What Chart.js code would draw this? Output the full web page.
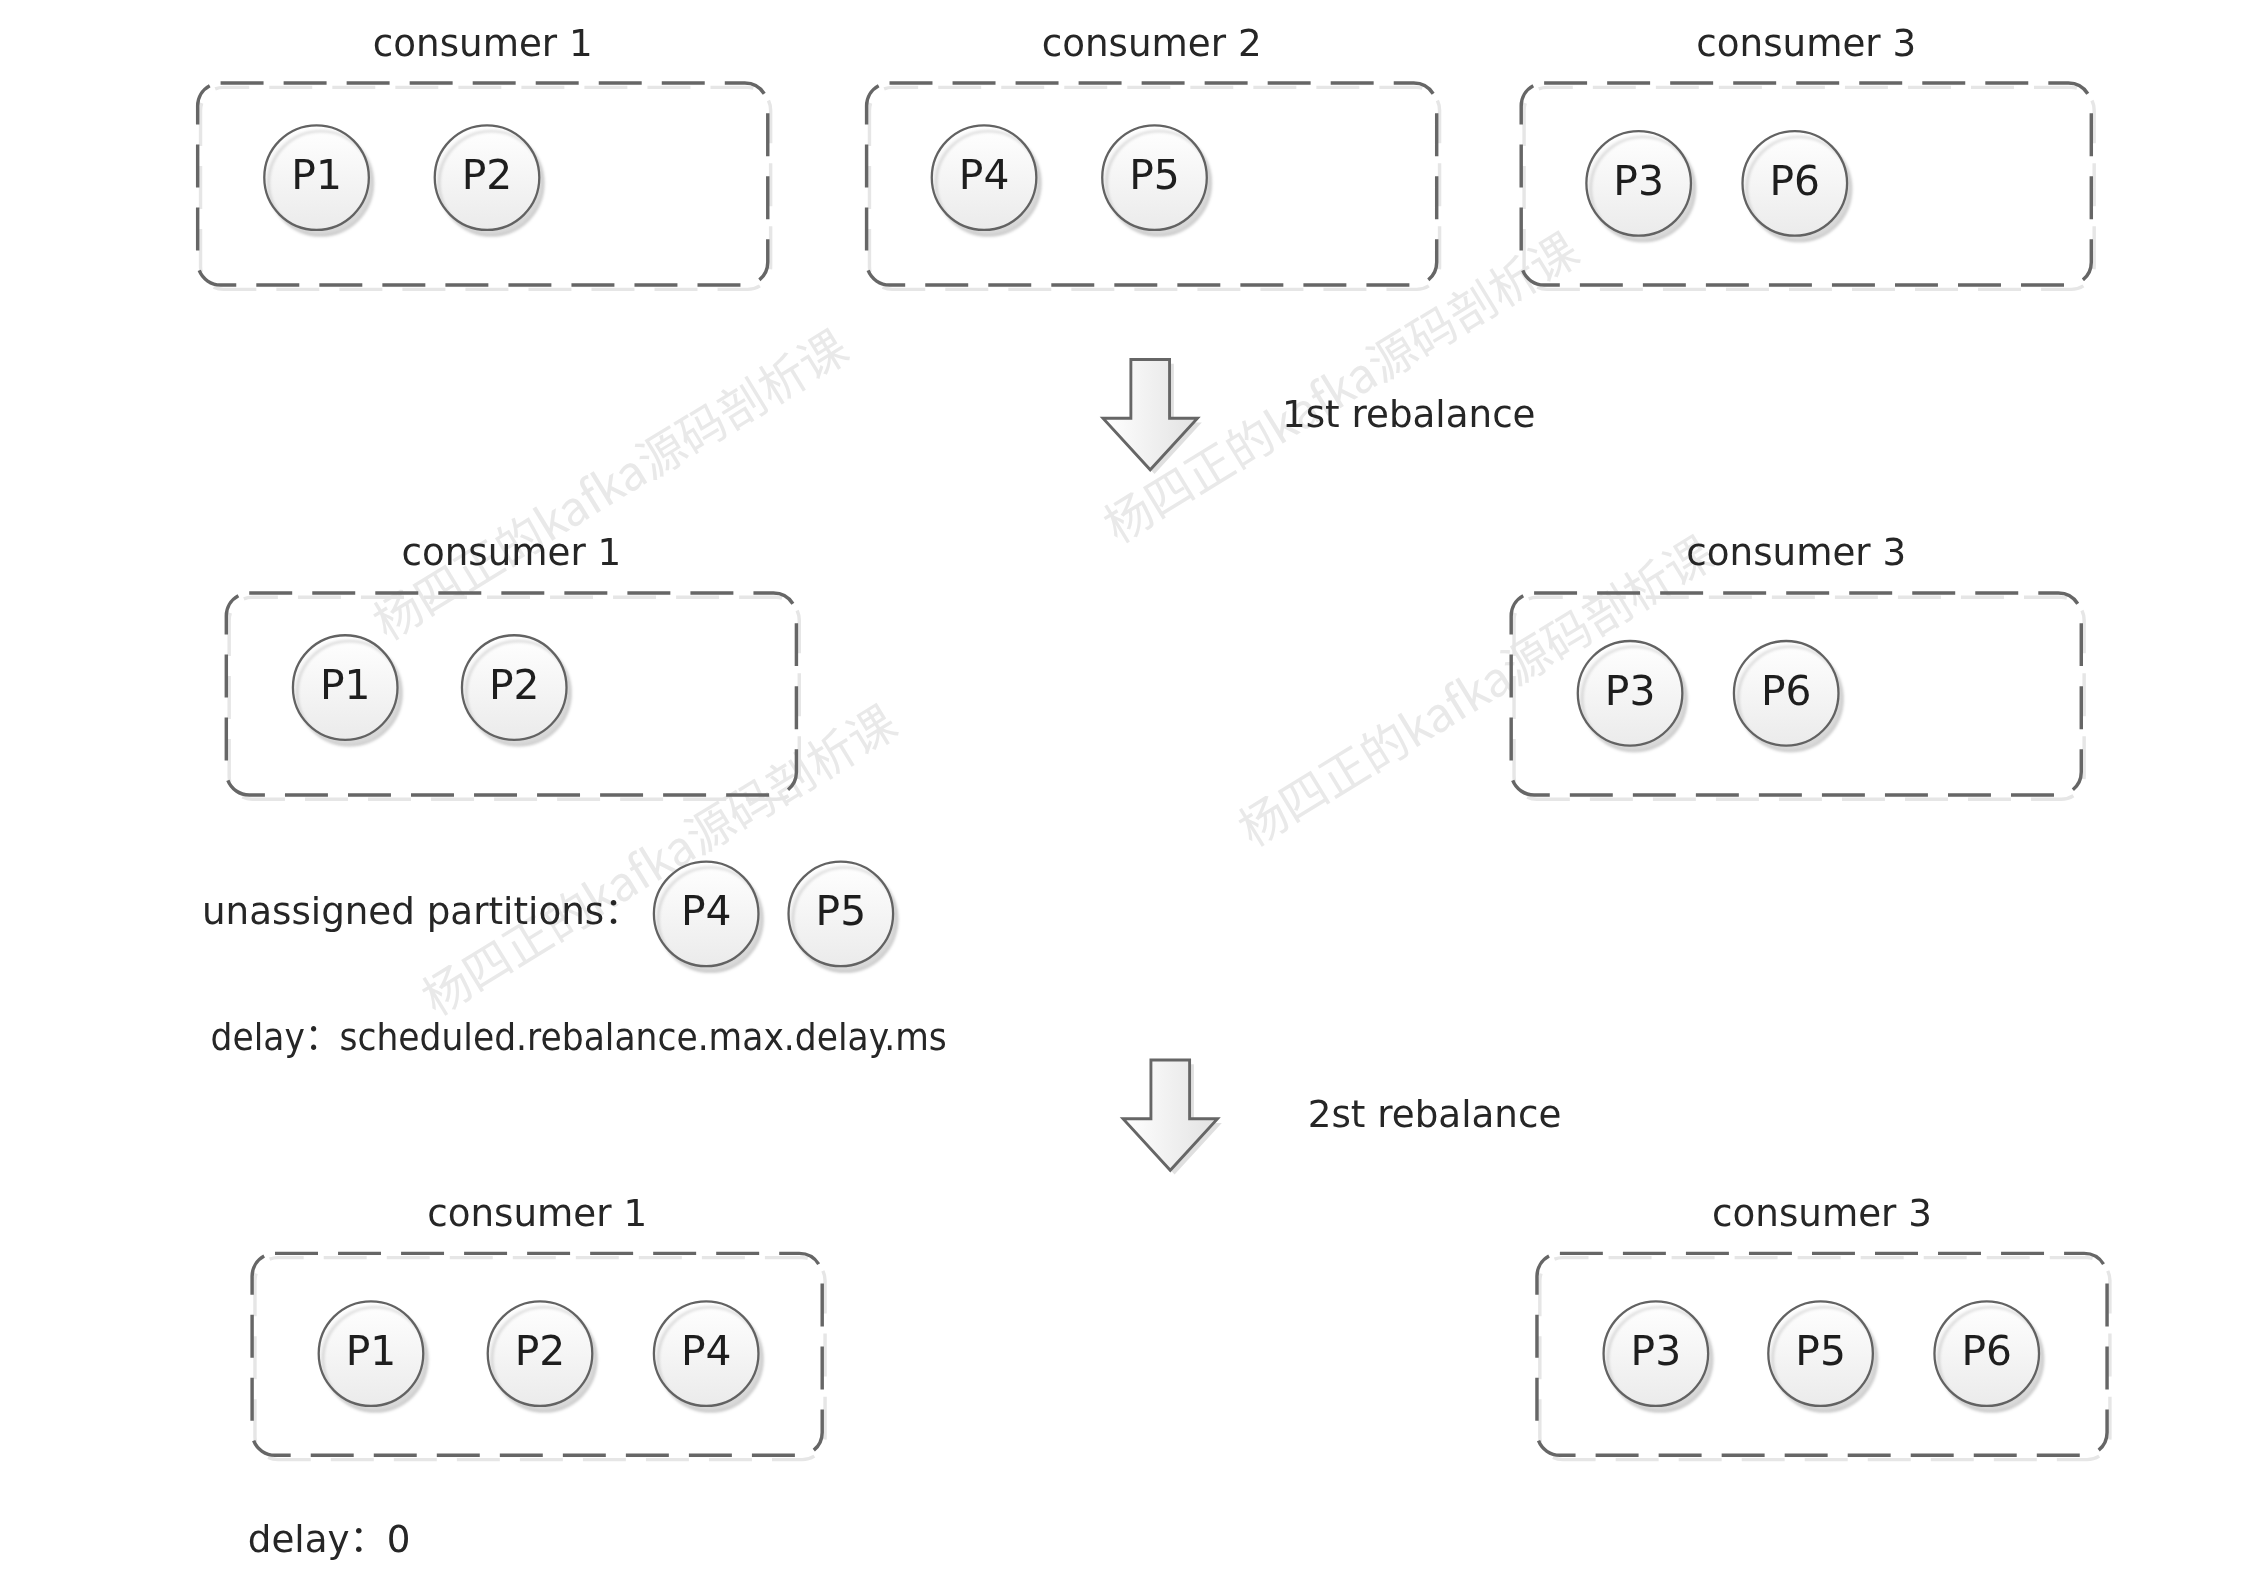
<!DOCTYPE html>
<html>
<head>
<meta charset="utf-8">
<script src="https://cdn.jsdelivr.net/npm/chart.js@4.4.0/dist/chart.umd.min.js"></script>
<style>
html, body { margin: 0; padding: 0; background: #fff; }
#wrap { width: 2246px; height: 1588px; }
</style>
</head>
<body>
<div id="wrap"><canvas id="myChart" width="2246" height="1588"></canvas></div>
<script>
// diagram units are 1568 x 1108.6, the scales map them onto the canvas
var partNames = ['P1', 'P2', 'P4', 'P5', 'P3', 'P6',
                 'P1', 'P2', 'P3', 'P6',
                 'P4', 'P5',
                 'P1', 'P2', 'P4', 'P3', 'P5', 'P6'];
var partX = [221, 340, 687, 806, 1144, 1253,
             241, 359, 1138, 1247,
             493, 587,
             259, 377, 493, 1156, 1271, 1387];
var partY = [124, 124, 124, 124, 128, 128,
             480, 480, 484, 484,
             638, 638,
             945, 945, 945, 945, 945, 945];

var groupTitles = ['consumer 1', 'consumer 2', 'consumer 3', 'consumer 1', 'consumer 3', 'consumer 1', 'consumer 3'];
var groupLeft = [138, 605, 1062, 158, 1055, 176, 1073];
var groupTop = [58, 58, 58, 414, 414, 875, 875];

var noteTexts = ['1st rebalance', 'unassigned partitions\uFF1A', 'delay\uFF1Ascheduled.rebalance.max.delay.ms', '2st rebalance', 'delay\uFF1A0'];
var noteX = [895, 141, 147, 913, 173];
var noteY = [291, 638, 726, 780, 1077];

var arrowX = [803, 817];
var arrowTop = [251, 740];
var arrowTip = [328, 817];

var wmText = '杨四正的kafka源码剖析课';
var wmX = [426, 936, 1030, 460];
var wmY = [338, 270, 482, 600];

var W = 1568, H = W * 1588 / 2246;
var K = 2246 / W;
var FONT = '"DejaVu Sans", "Noto Sans CJK SC", sans-serif';

var ctx = document.getElementById('myChart');

function boxPath(c, sx, sy, left, top, dx, dy) {
    var x1 = sx.getPixelForValue(left) + dx;
    var x2 = sx.getPixelForValue(left + 398) + dx;
    var y1 = sy.getPixelForValue(top) + dy;
    var y2 = sy.getPixelForValue(top + 141) + dy;
    c.beginPath();
    c.roundRect(x1, y1, x2 - x1, y2 - y1, 16 * K);
}

var diagramPlugin = {
    id: 'diagram',
    beforeDatasetsDraw: function(chart) {
        var c = chart.ctx, sx = chart.scales.x, sy = chart.scales.y;
        var i;
        // watermark
        c.save();
        c.fillStyle = '#e9e9e9';
        c.font = (33 * K) + 'px "Noto Sans CJK SC", sans-serif';
        c.textAlign = 'center';
        c.textBaseline = 'middle';
        for (i = 0; i < wmX.length; i++) {
            c.save();
            c.translate(sx.getPixelForValue(wmX[i]), sy.getPixelForValue(wmY[i]));
            c.rotate(-31.5 * Math.PI / 180);
            c.fillText(wmText, 0, 0);
            c.restore();
        }
        c.restore();

        // consumer boxes: light shadow stroke, then the dark dashes
        c.save();
        c.lineWidth = 2.4 * K;
        c.setLineDash([30 * K, 14 * K]);
        for (i = 0; i < groupLeft.length; i++) {
            c.strokeStyle = '#e6e6e6';
            c.lineDashOffset = 12 * K;
            boxPath(c, sx, sy, groupLeft[i], groupTop[i], 2 * K, 3 * K);
            c.stroke();
            c.strokeStyle = '#666';
            c.lineDashOffset = 0;
            boxPath(c, sx, sy, groupLeft[i], groupTop[i], 0, 0);
            c.stroke();
        }
        c.restore();

        // titles and notes
        c.save();
        c.fillStyle = '#262626';
        c.font = (26 * K) + 'px ' + FONT;
        c.textAlign = 'center';
        c.textBaseline = 'middle';
        for (i = 0; i < groupTitles.length; i++) {
            c.fillText(groupTitles[i], sx.getPixelForValue(groupLeft[i] + 199), sy.getPixelForValue(groupTop[i] - 26));
        }
        c.textAlign = 'left';
        for (i = 0; i < noteTexts.length; i++) {
            // the long config line is set a bit tighter in the original
            var maxW = noteTexts[i].length > 30 ? 514 * K : undefined;
            c.fillText(noteTexts[i], sx.getPixelForValue(noteX[i]), sy.getPixelForValue(noteY[i]), maxW);
        }
        c.restore();

        // arrows
        c.save();
        for (i = 0; i < arrowX.length; i++) {
            var cx = arrowX[i], top = arrowTop[i], tip = arrowTip[i];
            var head = tip - 36;
            var pts = [[cx - 13.5, top], [cx + 13.5, top], [cx + 13.5, head], [cx + 33, head],
                       [cx, tip], [cx - 33, head], [cx - 13.5, head]];
            var g = c.createLinearGradient(sx.getPixelForValue(cx - 33), 0, sx.getPixelForValue(cx + 33), 0);
            g.addColorStop(0, '#ffffff');
            g.addColorStop(1, '#e2e2e2');
            c.beginPath();
            pts.forEach(function(p, j) {
                var px = sx.getPixelForValue(p[0]), py = sy.getPixelForValue(p[1]);
                if (j === 0) c.moveTo(px, py); else c.lineTo(px, py);
            });
            c.closePath();
            c.shadowColor = 'rgba(0,0,0,0.12)';
            c.shadowOffsetX = 3 * K;
            c.shadowOffsetY = 3 * K;
            c.fillStyle = g;
            c.fill();
            c.shadowColor = 'transparent';
            c.lineWidth = 2 * K;
            c.strokeStyle = '#666';
            c.stroke();
        }
        c.restore();
    },
    beforeDatasetDraw: function(chart) {
        var c = chart.ctx;
        c.save();
        c.shadowColor = 'rgba(0,0,0,0.15)';
        c.shadowOffsetX = 3 * K;
        c.shadowOffsetY = 4 * K;
        c.shadowBlur = 3;
    },
    afterDatasetDraw: function(chart) {
        chart.ctx.restore();
    },
    afterDatasetsDraw: function(chart) {
        var c = chart.ctx;
        var meta = chart.getDatasetMeta(0);
        c.save();
        c.fillStyle = '#1e1e1e';
        c.font = (28.5 * K) + 'px ' + FONT;
        c.textAlign = 'center';
        c.textBaseline = 'middle';
        meta.data.forEach(function(el, i) {
            c.fillText(partNames[i], el.x, el.y + 1);
        });
        c.restore();
    }
};

var points = [];
for (var i in partX) {
    points.push({x: partX[i], y: partY[i]});
}

const myChart = new Chart(ctx, {
    type: 'scatter',
    data: {
        datasets: [{
            label: 'partitions',
            data: points,
            pointRadius: 36.5 * K,
            pointBorderWidth: 1.6 * K,
            borderColor: '#626262',
            clip: false,
            backgroundColor: function(context) {
                var chart = context.chart;
                if (!chart.chartArea || context.raw === undefined) return '#f2f2f2';
                var py = chart.scales.y.getPixelForValue(context.raw.y);
                var r = 36 * K;
                var g = chart.ctx.createLinearGradient(0, py - r, 0, py + r);
                g.addColorStop(0, '#ffffff');
                g.addColorStop(1, '#ebebeb');
                return g;
            }
        }]
    },
    options: {
        responsive: false,
        animation: false,
        devicePixelRatio: 1,
        events: [],
        layout: { padding: 0, autoPadding: false },
        plugins: {
            legend: { display: false },
            tooltip: { enabled: false }
        },
        scales: {
            x: { type: 'linear', min: 0, max: W, display: false },
            y: { type: 'linear', min: 0, max: H, reverse: true, display: false }
        }
    },
    plugins: [diagramPlugin]
});
</script>
</body>
</html>
